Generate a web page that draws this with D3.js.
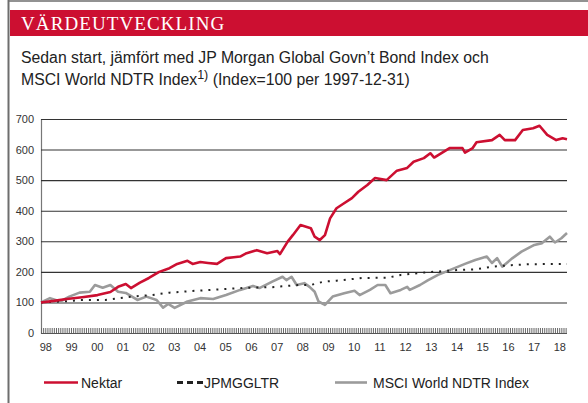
<!DOCTYPE html>
<html>
<head>
<meta charset="utf-8">
<script src="https://cdn.jsdelivr.net/npm/d3@7"></script>
<style>
	html, body { margin: 0; padding: 0; background: #fff; }
	svg { display: block; }
	.tick text { font-family: "Liberation Sans", Arial, sans-serif; font-size: 11px; fill: #333; }
</style>
</head>
<body>
<div id="chart"></div>
<script>
var W = 588, H = 403;

// year labels on the x axis
var yearLabels = ["98","99","00","01","02","03","04","05","06","07","08","09","10","11","12","13","14","15","16","17","18"];
var yTicks = [0, 100, 200, 300, 400, 500, 600, 700];

// [decimal year, index value]
var nektar = [
	[1998.0,100],[1998.5,105],[1999.0,111],[1999.6,117],[2000.2,124],[2000.7,134],[2001.0,151],[2001.3,160],
	[2001.5,147],[2001.85,165],[2002.2,180],[2002.6,200],[2003.0,212],[2003.3,226],[2003.7,236],[2003.9,226],
	[2004.2,232],[2004.5,229],[2004.85,226],[2005.2,245],[2005.5,248],[2005.75,250],[2006.0,261],[2006.4,271],
	[2006.8,261],[2007.2,268],[2007.3,258],[2007.6,299],[2007.8,320],[2008.1,353],[2008.5,343],[2008.65,315],
	[2008.85,304],[2009.05,320],[2009.25,375],[2009.5,408],[2009.75,422],[2010.1,441],[2010.35,462],[2010.7,484],
	[2011.0,507],[2011.45,500],[2011.85,531],[2012.25,540],[2012.5,560],[2012.9,572],[2013.15,588],[2013.3,574],
	[2013.9,605],[2014.4,605],[2014.5,590],[2014.8,605],[2014.95,624],[2015.55,631],[2015.85,648],[2016.05,631],
	[2016.45,631],[2016.75,664],[2017.15,670],[2017.4,678],[2017.7,648],[2018.05,631],[2018.3,637],[2018.47,634]
];
var jpm = [
	[1998.0,100],[1999.0,104],[1999.55,108],[2000.5,108],[2001.5,119],[2002.3,124],[2003.0,132],[2004.0,138],
	[2005.0,143],[2006.0,148],[2007.0,150],[2008.0,157],[2008.5,157],[2009.0,168],[2009.5,171],[2010.5,180],
	[2011.5,181],[2012.0,190],[2012.8,197],[2013.1,199],[2014.2,206],[2014.9,208],[2015.55,217],[2016.3,222],
	[2017.0,225],[2018.47,226]
];
var msci = [
	[1998.0,100],[1998.35,114],[1998.75,103],[1999.1,119],[1999.5,132],[1999.9,135],[2000.1,157],[2000.4,148],
	[2000.7,157],[2001.0,135],[2001.3,131],[2001.75,108],[2002.1,119],[2002.5,108],[2002.75,83],[2002.95,95],
	[2003.2,82],[2003.7,103],[2004.2,114],[2004.7,111],[2005.2,124],[2005.75,141],[2006.25,154],[2006.5,147],
	[2007.0,168],[2007.4,184],[2007.55,173],[2007.75,184],[2007.95,157],[2008.25,163],[2008.45,151],[2008.65,135],
	[2008.8,103],[2009.05,92],[2009.35,119],[2009.8,130],[2010.2,138],[2010.4,124],[2010.8,141],[2011.1,157],
	[2011.4,157],[2011.6,130],[2012.0,141],[2012.25,151],[2012.35,141],[2012.75,157],[2013.05,172],[2013.45,190],
	[2014.0,209],[2014.5,226],[2014.9,239],[2015.35,250],[2015.55,229],[2015.75,245],[2015.95,217],[2016.35,245],
	[2016.7,266],[2017.2,288],[2017.5,294],[2017.8,315],[2018.0,296],[2018.25,310],[2018.47,327]
];

var RED = "#cc0f31";
var GRAY = "#9b9b9b";

var svg = d3.select("#chart").append("svg")
	.attr("width", W)
	.attr("height", H);

// frame and header
svg.append("line")
	.attr("x1", 8.5).attr("x2", 8.5).attr("y1", 0).attr("y2", H)
	.attr("stroke", "#6e6e6e").attr("stroke-width", 2);
svg.append("line")
	.attr("x1", 8).attr("x2", W).attr("y1", 1).attr("y2", 1)
	.attr("stroke", "#6e6e6e").attr("stroke-width", 1.5);
svg.append("rect")
	.attr("x", 10).attr("y", 10).attr("width", W - 10).attr("height", 26)
	.attr("fill", RED);
svg.append("text")
	.attr("x", 21).attr("y", 30)
	.attr("fill", "#fff")
	.style("font-family", "'Liberation Serif', 'Times New Roman', serif")
	.style("font-size", "19px")
	.style("letter-spacing", "1.1px")
	.text("VÄRDEUTVECKLING");

var sub = svg.append("g")
	.style("font-family", "'Liberation Sans', Arial, sans-serif")
	.style("font-size", "15.8px")
	.attr("fill", "#222");
sub.append("text").attr("x", 21).attr("y", 63)
	.text("Sedan start, jämfört med JP Morgan Global Govn\u2019t Bond Index och");
var line2 = sub.append("text").attr("x", 21).attr("y", 85);
line2.append("tspan").text("MSCI World NDTR Index");
line2.append("tspan").attr("dy", -6).style("font-size", "12.5px").text("1)");
line2.append("tspan").attr("dy", 6).text(" (Index=100 per 1997-12-31)");

// scales
var x = d3.scaleLinear().domain([1998, 2018.47]).range([41, 567]);
var y = d3.scaleLinear().domain([0, 700]).range([333, 119]);

// grid + y labels
var yAxis = svg.append("g")
	.attr("transform", "translate(41,0)")
	.call(d3.axisLeft(y).tickValues(yTicks).tickSize(-(567 - 41)).tickPadding(7));
yAxis.select(".domain").attr("stroke", "#777").attr("stroke-width", 1.2);
yAxis.selectAll(".tick line").attr("stroke", "#333").attr("stroke-width", 1.1);
yAxis.selectAll(".tick").filter(function(d) { return d === 0; }).select("line").attr("stroke", "#555");

// monthly tick band at the bottom
var months = d3.range(0, 246).map(function(i) { return 1998 + i / 12; });
var mAxis = svg.append("g")
	.attr("transform", "translate(0,333)")
	.call(d3.axisBottom(x).tickValues(months).tickSize(-5).tickFormat(""));
mAxis.select(".domain").remove();
mAxis.selectAll(".tick line").attr("stroke", "#666").attr("stroke-width", 1);

// year labels
var xAxis = svg.append("g")
	.attr("transform", "translate(0,340)")
	.call(d3.axisBottom(x)
		.tickValues(yearLabels.map(function(d, i) { return 1998.17 + i; }))
		.tickSize(0)
		.tickFormat(function(d, i) { return yearLabels[i]; }));
xAxis.select(".domain").remove();

// series
var line = d3.line()
	.x(function(d) { return x(d[0]); })
	.y(function(d) { return y(d[1]); });

svg.append("path").datum(msci)
	.attr("d", line).attr("fill", "none")
	.attr("stroke", GRAY).attr("stroke-width", 2.6).attr("stroke-linejoin", "round");
svg.append("path").datum(jpm)
	.attr("d", line).attr("fill", "none")
	.attr("stroke", "#222").attr("stroke-width", 2).attr("stroke-dasharray", "2,6");
svg.append("path").datum(nektar)
	.attr("d", line).attr("fill", "none")
	.attr("stroke", RED).attr("stroke-width", 2.6).attr("stroke-linejoin", "round");

// legend
var legend = [
	{ name: "Nektar", x1: 44, x2: 78, tx: 81, color: RED, width: 2.6, dash: null },
	{ name: "JPMGGLTR", x1: 177, x2: 203, tx: 204, color: "#222", width: 3, dash: "6,4" },
	{ name: "MSCI World NDTR Index", x1: 335, x2: 367, tx: 373, color: GRAY, width: 2.6, dash: null }
];
var lg = svg.append("g")
	.style("font-family", "'Liberation Sans', Arial, sans-serif")
	.style("font-size", "14px");
legend.forEach(function(l) {
	lg.append("line")
		.attr("x1", l.x1).attr("x2", l.x2).attr("y1", 382.5).attr("y2", 382.5)
		.attr("stroke", l.color).attr("stroke-width", l.width)
		.attr("stroke-dasharray", l.dash);
	lg.append("text").attr("x", l.tx).attr("y", 388).attr("fill", "#222").text(l.name);
});
</script>
</body>
</html>
